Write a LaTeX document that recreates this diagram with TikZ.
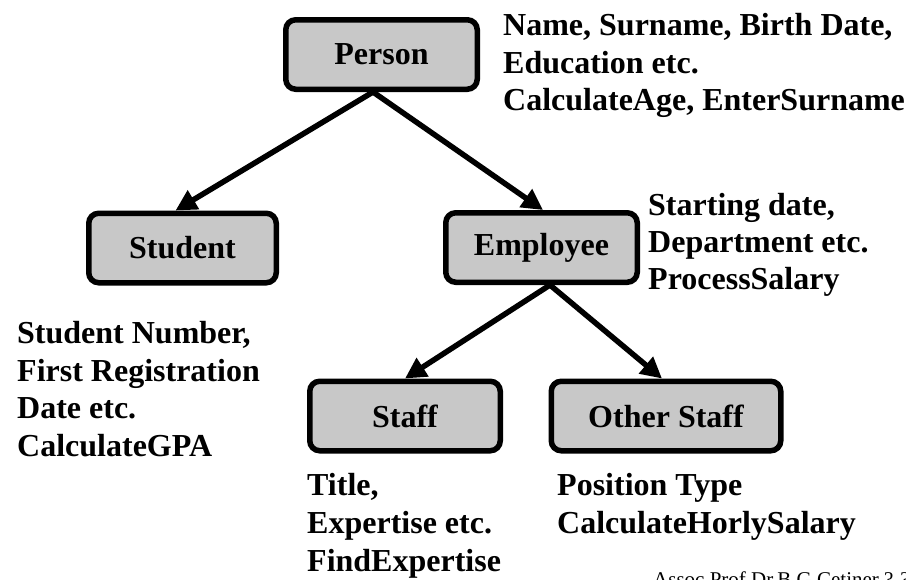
\documentclass[tikz,border=0pt]{standalone}
\usepackage{fontspec}
\setmainfont{Liberation Serif}
\usetikzlibrary{arrows.meta}
\definecolor{boxgray}{RGB}{200,200,200}
\begin{document}
\begin{tikzpicture}[x=1pt,y=-1pt,
  cls/.style={draw=black, line width=5.5pt, fill=boxgray, rounded corners=10pt,
    minimum height=69.5pt, inner sep=0pt, font=\fontsize{32}{37.5}\selectfont\bfseries},
  attr/.style={anchor=base west, inner sep=0pt, font=\fontsize{32}{37.5}\selectfont\bfseries},
  inh/.style={line width=5.5pt, -{Triangle[length=21pt,width=21pt]}}]
\useasboundingbox (0,0) rectangle (906,579);

% class boxes
\node[cls, minimum width=191.5pt] (person)   at (381.5,54.5)  {Person};
\node[cls, minimum width=187.5pt] (student)  at (182.5,248)   {Student};
\node[cls, minimum width=191.5pt] (employee) at (541.5,247.5) {Employee};
\node[cls, minimum width=190.5pt] (staff)    at (405,416)     {Staff};
\node[cls, minimum width=229.5pt] (other)    at (666,416)     {Other Staff};

% inheritance arrows
\draw[inh] ([xshift=-8.5pt]person.south) -- ([xshift=-7pt]student.north);
\draw[inh] ([xshift=-8.5pt]person.south) -- ([xshift=1.5pt]employee.north);
\draw[inh] ([xshift=8.5pt]employee.south) -- (staff.north);
\draw[inh] ([xshift=8.5pt]employee.south) -- ([xshift=-4pt]other.north);

% attributes and methods
\node[attr] (p1) at (503,35.5)  {Name, Surname, Birth Date,};
\node[attr] (p2) at (503,73)    {Education etc.};
\node[attr] (p3) at (503,110.5) {CalculateAge, EnterSurname};

\node[attr] (e1) at (648,215)   {Starting date,};
\node[attr] (e2) at (648,252)   {Department etc.};
\node[attr] (e3) at (648,289)   {ProcessSalary};

\node[attr] (s1) at (17,343)    {Student Number,};
\node[attr] (s2) at (17,381)    {First Registration};
\node[attr] (s3) at (17,418.5)  {Date etc.};
\node[attr] (s4) at (17,456)    {CalculateGPA};

\node[attr] (t1) at (307,495)   {Title,};
\node[attr] (t2) at (307,533)   {Expertise etc.};
\node[attr] (t3) at (307,571)   {FindExpertise};

\node[attr] (o1) at (557,495)   {Position Type};
\node[attr] (o2) at (557,533)   {CalculateHorlySalary};

% footer
\node[anchor=base west, inner sep=0pt, font=\fontsize{21}{24}\selectfont] (footer)
  at (653,586) {Assoc.Prof.Dr.B.G.Cetiner ? ?};
\end{tikzpicture}
\end{document}
